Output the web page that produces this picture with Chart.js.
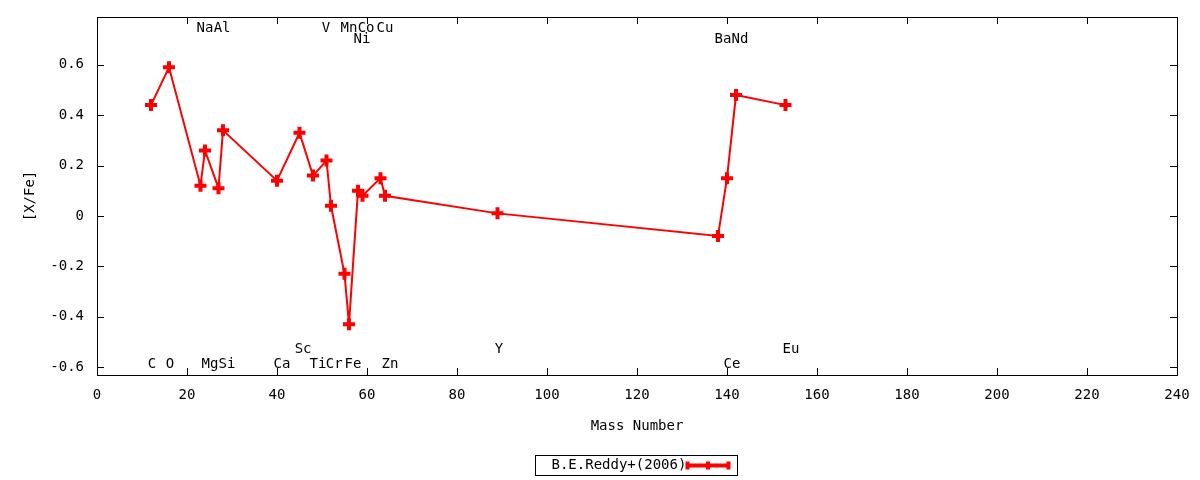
<!DOCTYPE html>
<html>
<head>
<meta charset="utf-8">
<script src="https://cdn.jsdelivr.net/npm/chart.js@4.4.1/dist/chart.umd.min.js"></script>
<style>
  html, body { margin: 0; padding: 0; background: #fff; }
  #wrap { width: 1200px; height: 480px; }
</style>
</head>
<body>
<div id="wrap"><canvas id="abundChart" width="1200" height="480"></canvas></div>
<script>
// ---- data ----
const massNumbers = [12, 16, 23, 24, 27, 28, 40, 45, 48, 51, 52, 55, 56, 58, 59, 63, 64, 89, 138, 140, 142, 153];
const xFeValues  = [0.44, 0.59, 0.12, 0.26, 0.11, 0.34, 0.14, 0.33, 0.16, 0.22, 0.04, -0.23, -0.43, 0.10, 0.08, 0.15, 0.08, 0.01, -0.08, 0.15, 0.48, 0.44];

// element name annotations (data coordinates)
const elemNames  = ["C", "O", "Na", "Mg", "Al", "Si", "Ca", "Sc", "Ti", "V", "Cr", "Mn", "Fe", "Ni", "Co", "Cu", "Zn", "Y", "Ba", "Ce", "Nd", "Eu"];
const elemLabelX = [12.2, 16.2, 24, 25.1, 27.8, 28.9, 41.1, 45.8, 49.1, 50.9, 52.7, 56, 56.9, 58.9, 59.8, 64, 65.1, 89.3, 139.1, 141.1, 142.9, 154.2];
const elemLabelY = [-0.588, -0.588, 0.743, -0.588, 0.743, -0.588, -0.588, -0.532, -0.588, 0.743, -0.588, 0.743, -0.588, 0.703, 0.743, 0.743, -0.588, -0.532, 0.703, -0.588, 0.703, -0.532];

const xTicks = [0, 20, 40, 60, 80, 100, 120, 140, 160, 180, 200, 220, 240];
const yTicks = [-0.6, -0.4, -0.2, 0, 0.2, 0.4, 0.6];

const seriesLabel = "B.E.Reddy+(2006)";
const FONT = "\"DejaVu Sans Mono\", monospace";
const RED = "#ff0000";

// inward ticks + frame, like gnuplot
const framePlugin = {
  id: "frame",
  afterDraw(chart) {
    const { ctx, chartArea: a, scales } = chart;
    ctx.save();
    ctx.strokeStyle = "#000";
    ctx.lineWidth = 1;
    ctx.strokeRect(Math.round(a.left) + 0.5, Math.round(a.top) + 0.5,
      Math.round(a.right - a.left), Math.round(a.bottom - a.top));
    ctx.beginPath();
    xTicks.forEach(v => {
      const x = Math.round(scales.x.getPixelForValue(v)) + 0.5;
      ctx.moveTo(x, a.bottom); ctx.lineTo(x, a.bottom - 7);
      ctx.moveTo(x, a.top); ctx.lineTo(x, a.top + 7);
    });
    yTicks.forEach(v => {
      const y = Math.round(scales.y.getPixelForValue(v)) + 0.5;
      ctx.moveTo(a.left, y); ctx.lineTo(a.left + 7, y);
      ctx.moveTo(a.right, y); ctx.lineTo(a.right - 7, y);
    });
    ctx.stroke();
    ctx.restore();
  }
};

// element labels
const elemLabelPlugin = {
  id: "elemLabels",
  afterDatasetsDraw(chart) {
    const { ctx, scales } = chart;
    ctx.save();
    ctx.fillStyle = "#000";
    ctx.font = "14px " + FONT;
    ctx.textAlign = "center";
    ctx.textBaseline = "middle";
    elemNames.forEach((name, i) => {
      ctx.fillText(name, scales.x.getPixelForValue(elemLabelX[i]), scales.y.getPixelForValue(elemLabelY[i]));
    });
    ctx.restore();
  }
};

// boxed legend under the x title
const boxLegendPlugin = {
  id: "boxLegend",
  afterDraw(chart) {
    const { ctx, chartArea: a } = chart;
    const w = 202, h = 20;
    const cx = (a.left + a.right) / 2;
    const left = Math.round(cx - w / 2) - 0.5;
    const top = 455.5;
    ctx.save();
    ctx.strokeStyle = "#000";
    ctx.lineWidth = 1;
    ctx.strokeRect(left, top, w, h);
    ctx.fillStyle = "#000";
    ctx.font = "14px " + FONT;
    ctx.textAlign = "left";
    ctx.textBaseline = "middle";
    ctx.fillText(seriesLabel, left + 16, top + h / 2);
    const x0 = left + 151, x1 = left + 194, ym = top + h / 2;
    ctx.strokeStyle = RED;
    ctx.lineWidth = 4;
    ctx.beginPath();
    ctx.moveTo(x0, ym); ctx.lineTo(x1, ym);
    ctx.moveTo(x0 + 1, ym - 4); ctx.lineTo(x0 + 1, ym + 4);
    ctx.moveTo(x1 - 1, ym - 4); ctx.lineTo(x1 - 1, ym + 4);
    ctx.moveTo((x0 + x1) / 2, ym - 4); ctx.lineTo((x0 + x1) / 2, ym + 4);
    ctx.stroke();
    ctx.restore();
  }
};

new Chart(document.getElementById("abundChart").getContext("2d"), {
  type: "line",
  data: {
    datasets: [{
      label: seriesLabel,
      data: massNumbers.map((m, i) => ({ x: m, y: xFeValues[i] })),
      borderColor: RED,
      backgroundColor: RED,
      borderWidth: 2,
      tension: 0,
      pointStyle: "cross",
      pointRadius: 6,
      pointBorderWidth: 4,
      pointBorderColor: RED,
      pointHoverRadius: 6
    }]
  },
  options: {
    responsive: false,
    animation: false,
    devicePixelRatio: 1,
    layout: { padding: { top: 17, right: 23, left: 22, bottom: 41 } },
    plugins: {
      legend: { display: false },
      tooltip: { enabled: false }
    },
    scales: {
      x: {
        type: "linear",
        min: 0,
        max: 240,
        afterBuildTicks: s => { s.ticks = xTicks.map(v => ({ value: v })); },
        afterFit: s => { s.height = 64; s.paddingLeft = 0; s.paddingRight = 0; },
        grid: { display: false, drawTicks: false },
        border: { display: false },
        ticks: { color: "#000", padding: 12, font: { family: FONT, size: 14 }, maxRotation: 0 },
        title: { display: true, text: "Mass Number", color: "#000", padding: { top: 4, bottom: 4 }, font: { family: FONT, size: 14 } }
      },
      y: {
        type: "linear",
        min: -0.632,
        max: 0.79,
        afterBuildTicks: s => { s.ticks = yTicks.map(v => ({ value: v })); },
        afterFit: s => { s.width = 75; s.paddingTop = 0; s.paddingBottom = 0; },
        grid: { display: false, drawTicks: false },
        border: { display: false },
        ticks: {
          color: "#000",
          padding: 13,
          font: { family: FONT, size: 14 },
          callback: v => String(Math.round(v * 10) / 10)
        },
        title: { display: true, text: "[X/Fe]", color: "#000", padding: { top: 0, bottom: 0 }, font: { family: FONT, size: 14 } }
      }
    }
  },
  plugins: [framePlugin, elemLabelPlugin, boxLegendPlugin]
});
</script>
</body>
</html>
